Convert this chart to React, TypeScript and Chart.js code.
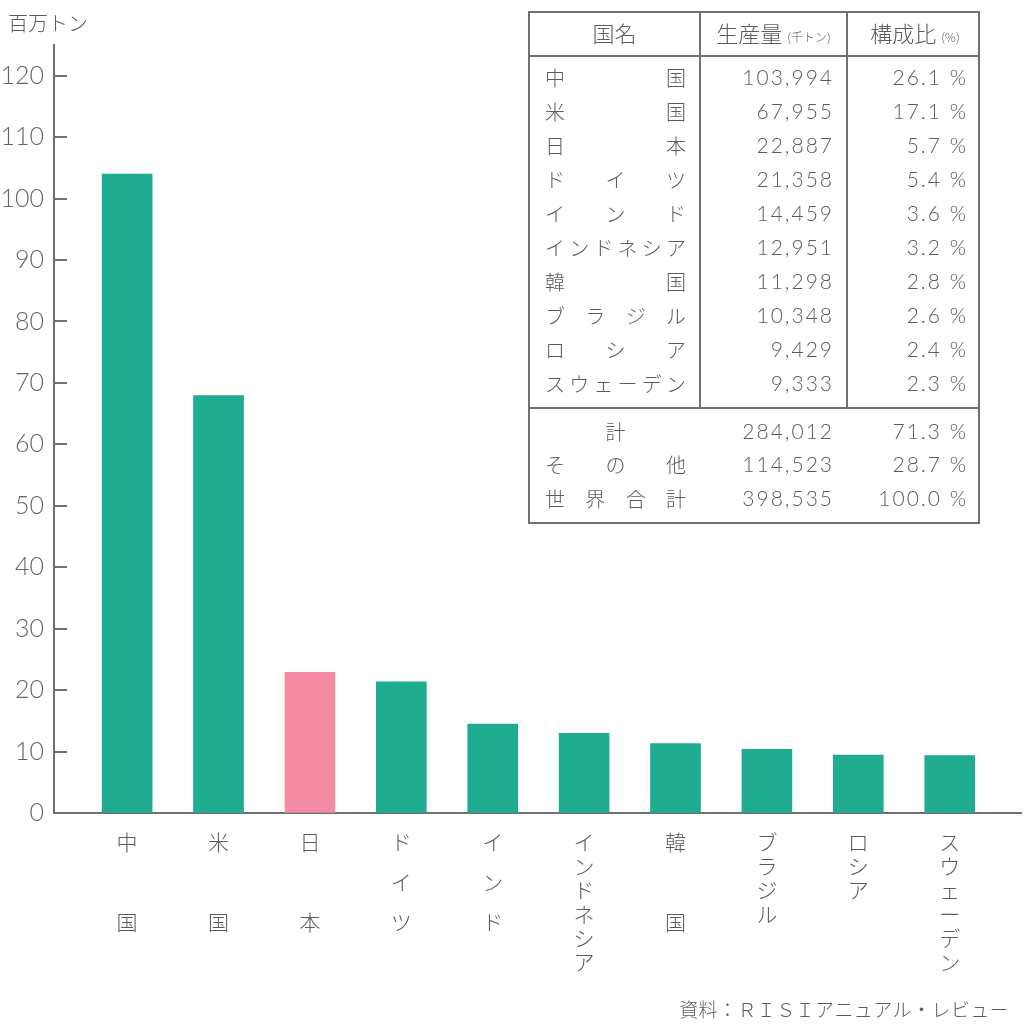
import { useEffect, useRef } from 'react';
import { Chart, registerables } from 'chart.js';

Chart.register(...registerables);

// ---- data ----
const categories = ['中国', '米国', '日本', 'ドイツ', 'インド', 'インドネシア', '韓国', 'ブラジル', 'ロシア', 'スウェーデン'];
// vertical axis label characters ('' = empty slot)
const axisLabelChars: string[][] = [
  ['中', '', '国'],
  ['米', '', '国'],
  ['日', '', '本'],
  ['ド', 'イ', 'ツ'],
  ['イ', 'ン', 'ド'],
  ['イ', 'ン', 'ド', 'ネ', 'シ', 'ア'],
  ['韓', '', '国'],
  ['ブ', 'ラ', 'ジ', 'ル'],
  ['ロ', 'シ', 'ア'],
  ['ス', 'ウ', 'ェ', 'ー', 'デ', 'ン'],
];
const valuesMillionTons = [103.994, 67.955, 22.887, 21.358, 14.459, 12.951, 11.298, 10.348, 9.429, 9.333];
const yTicks = [0, 10, 20, 30, 40, 50, 60, 70, 80, 90, 100, 110, 120];

const tableNames = ['中国', '米国', '日本', 'ドイツ', 'インド', 'インドネシア', '韓国', 'ブラジル', 'ロシア', 'スウェーデン'];
const tableProduction = ['103,994', '67,955', '22,887', '21,358', '14,459', '12,951', '11,298', '10,348', '9,429', '9,333'];
const tableShare = ['26.1', '17.1', '5.7', '5.4', '3.6', '3.2', '2.8', '2.6', '2.4', '2.3'];
const summaryNames = ['計', 'その他', '世界合計'];
const summaryProduction = ['284,012', '114,523', '398,535'];
const summaryShare = ['71.3', '28.7', '100.0'];

const yTitle = '百万トン';
const sourceText = '資料：ＲＩＳＩアニュアル・レビュー';

// ---- styles ----
const TEAL = '#1fac90';
const PINK = '#f48ba3';
const barColors = categories.map((c) => (c === '日本' ? PINK : TEAL));
const labelStep = [5, 5, 5, 5, 5, 3, 5, 3, 3, 3]; // in 8px units
const TEXT = '#5c5c5c';
const LINE = '#707070';
const JP = '"Noto Sans CJK JP", "Noto Sans", sans-serif';
const NUM = 'Lato, "Noto Sans", sans-serif';

const axisLabels = axisLabelChars.map((chars, i) => {
  const out: string[] = [];
  chars.forEach((c, k) => {
    if (k > 0) for (let s = 1; s < labelStep[i]; s++) out.push('');
    out.push(c);
  });
  return out;
});

function drawDistributed(ctx: CanvasRenderingContext2D, text: string, x0: number, x1: number, y: number) {
  const chars = Array.from(text);
  ctx.textAlign = 'left';
  if (chars.length === 1) {
    const w = ctx.measureText(chars[0]).width;
    ctx.fillText(chars[0], (x0 + x1) / 2 - w / 2, y);
    return;
  }
  const widths = chars.map((c) => ctx.measureText(c).width);
  const total = widths.reduce((a, b) => a + b, 0);
  const gap = (x1 - x0 - total) / (chars.length - 1);
  let x = x0;
  chars.forEach((c, i) => {
    ctx.fillText(c, x, y);
    x += widths[i] + gap;
  });
}

const overlayPlugin = {
  id: 'overlay',
  afterDraw(chart: any) {
    const ctx: CanvasRenderingContext2D = chart.ctx;
    const yScale = chart.scales.y;
    ctx.save();
    // inward tick marks on y axis
    ctx.strokeStyle = LINE;
    ctx.lineWidth = 2;
    yScale.ticks.forEach((t: any) => {
      const py = Math.round(yScale.getPixelForValue(t.value));
      if (t.value === 0) return;
      ctx.beginPath();
      ctx.moveTo(yScale.right, py);
      ctx.lineTo(yScale.right + 13, py);
      ctx.stroke();
    });

    ctx.fillStyle = TEXT;
    ctx.textBaseline = 'middle';
    // y title
    ctx.font = `300 20px ${JP}`;
    ctx.textAlign = 'left';
    ctx.fillText(yTitle, 8, 23);

    // source
    ctx.font = `300 19px ${JP}`;
    (ctx as any).letterSpacing = '0.4px';
    ctx.textAlign = 'right';
    ctx.fillText(sourceText, 1009, 1010);
    (ctx as any).letterSpacing = '0px';

    // table
    const L = 529, R = 979, T = 12, B = 523, C1 = 700, C2 = 847, HB = 56, SEP = 408;
    ctx.fillStyle = '#ffffff';
    ctx.fillRect(L, T, R - L, B - T);
    ctx.strokeStyle = LINE;
    ctx.lineWidth = 2;
    ctx.strokeRect(L, T, R - L, B - T);
    ctx.beginPath();
    ctx.moveTo(L, HB); ctx.lineTo(R, HB);
    ctx.moveTo(L, SEP); ctx.lineTo(R, SEP);
    ctx.moveTo(C1, T); ctx.lineTo(C1, SEP);
    ctx.moveTo(C2, T); ctx.lineTo(C2, SEP);
    ctx.stroke();

    ctx.fillStyle = TEXT;
    ctx.textBaseline = 'middle';
    // header
    ctx.font = `300 22px ${JP}`;
    ctx.textAlign = 'center';
    ctx.fillText('国名', (L + C1) / 2, 34);
    const drawGroup = (big: string, small: string, cx: number) => {
      const gap = 5;
      ctx.font = `300 22px ${JP}`;
      const wb = ctx.measureText(big).width;
      ctx.font = `300 12px ${JP}`;
      const ws = ctx.measureText(small).width;
      const x = cx - (wb + ws + gap) / 2;
      ctx.textAlign = 'left';
      ctx.font = `300 22px ${JP}`;
      ctx.fillText(big, x, 34);
      ctx.font = `300 12px ${JP}`;
      ctx.fillText(small, x + wb + gap, 37);
    };
    drawGroup('生産量', '(千トン)', (C1 + C2) / 2);
    drawGroup('構成比', '(%)', (C2 + R) / 2 + 2);

    const drawRow = (name: string, prod: string, share: string, y: number) => {
      ctx.font = `300 20px ${JP}`;
      (ctx as any).letterSpacing = '0px';
      drawDistributed(ctx, name, 545, 686, y);
      ctx.font = `300 21px ${NUM}`;
      (ctx as any).letterSpacing = '2px';
      ctx.textAlign = 'right';
      ctx.fillText(prod, 834, y);
      ctx.fillText(share + ' %', 968, y);
      (ctx as any).letterSpacing = '0px';
    };
    tableNames.forEach((n, i) => drawRow(n, tableProduction[i], tableShare[i], 78 + 34 * i));
    summaryNames.forEach((n, i) => drawRow(n, summaryProduction[i], summaryShare[i], 432 + 33.5 * i));
    ctx.restore();
  },
};

export default function App() {
  const ref = useRef<HTMLCanvasElement | null>(null);
  useEffect(() => {
    if (!ref.current) return;
    const chart = new Chart(ref.current, {
      type: 'bar',
      data: {
        datasets: [
          {
            data: valuesMillionTons.map((v, i) => ({ x: i, y: v })),
            backgroundColor: barColors,
            borderWidth: 0,
            barThickness: 50,
          },
        ],
      },
      options: {
        responsive: false,
        animation: false,
        events: [],
        layout: { padding: { top: 45, right: 3, left: 0, bottom: 0 } },
        plugins: { legend: { display: false }, tooltip: { enabled: false }, title: { display: false } },
        scales: {
          x: {
            type: 'linear',
            min: -0.8,
            max: 9.78,
            offset: false,
            grid: { display: true, drawOnChartArea: false, drawTicks: false },
            border: { display: true, color: LINE, width: 2 },
            afterBuildTicks: (scale: any) => {
              scale.ticks = categories.map((_, i) => ({ value: i }));
            },
            afterFit: (scale: any) => {
              scale.height = 211;
            },
            ticks: {
              autoSkip: false,
              maxRotation: 0,
              minRotation: 0,
              padding: 25,
              color: TEXT,
              font: { family: JP, size: 21, weight: '300', lineHeight: '8px' },
              callback: (value: any) => axisLabels[Math.round(Number(value))] ?? '',
            },
          },
          y: {
            min: 0,
            max: 125,
            grid: { display: true, drawOnChartArea: false, drawTicks: false },
            border: { display: true, color: LINE, width: 2 },
            afterBuildTicks: (scale: any) => {
              scale.ticks = yTicks.map((v) => ({ value: v }));
            },
            afterFit: (scale: any) => {
              scale.width = 54;
            },
            ticks: {
              padding: 10,
              color: '#666666',
              font: { family: NUM, size: 25, weight: '300' },
              callback: (v: any) => String(v),
            },
          },
        },
      },
      plugins: [overlayPlugin],
    });
    return () => chart.destroy();
  }, []);
  return (
    <div style={{ position: 'absolute', left: 0, top: 0, width: 1024, height: 1024, background: '#fff' }}>
      <canvas ref={ref} width={1024} height={1024} style={{ display: 'block' }} />
    </div>
  );
}
